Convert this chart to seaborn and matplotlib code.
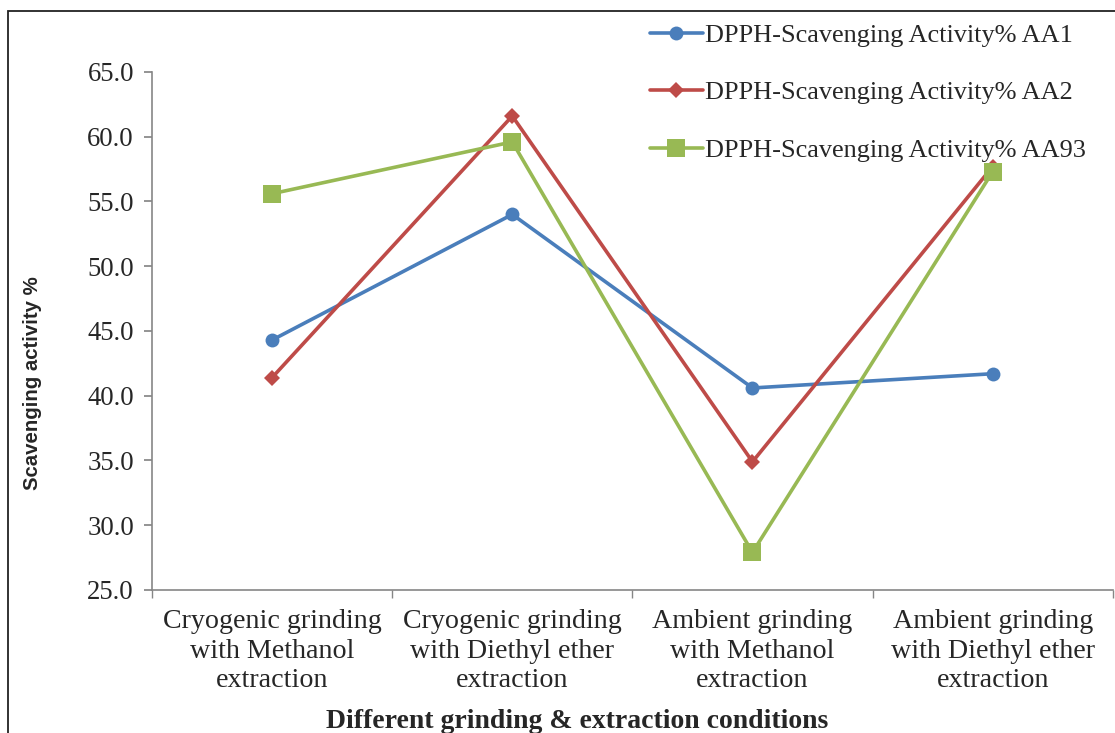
import seaborn as sns
import pandas as pd
import matplotlib.pyplot as plt
from matplotlib.patches import Rectangle

conditions = ['Cryogenic grinding\nwith Methanol\nextraction',
              'Cryogenic grinding\nwith Diethyl ether\nextraction',
              'Ambient grinding\nwith Methanol\nextraction',
              'Ambient grinding\nwith Diethyl ether\nextraction']
series = ['DPPH-Scavenging Activity% AA1',
          'DPPH-Scavenging Activity% AA2',
          'DPPH-Scavenging Activity% AA93']
aa1 = [44.3, 54.0, 40.6, 41.7]
aa2 = [41.4, 61.6, 34.9, 57.7]
aa93 = [55.6, 59.6, 27.9, 57.3]
yticks = [25.0, 30.0, 35.0, 40.0, 45.0, 50.0, 55.0, 60.0, 65.0]

rows = []
for name, vals in zip(series, [aa1, aa2, aa93]):
    for i, v in enumerate(vals):
        rows.append({'Condition': i, 'Series': name, 'Value': v})
df = pd.DataFrame(rows)

sns.set_theme(style='white')
plt.rcParams['font.family'] = ['Liberation Serif', 'DejaVu Serif']

fig = plt.figure(figsize=(11.15, 7.33), dpi=100)
ax = fig.add_axes([0.1363, 0.1951, 0.8617, 0.7067])

palette = {series[0]: '#4A7EBB', series[1]: '#BE4B48', series[2]: '#98B954'}
markers = {series[0]: 'o', series[1]: 'D', series[2]: 's'}
sizes = {series[0]: 10, series[1]: 8.5, series[2]: 12.5}

for name in series:
    sub = df[df['Series'] == name]
    sns.lineplot(data=sub, x='Condition', y='Value', color=palette[name],
                 marker=markers[name], markersize=sizes[name], linewidth=2.6,
                 markeredgewidth=0, label=name, ax=ax)

ax.set_xlim(-0.5, 3.5)
ax.set_ylim(25, 65)
ax.set_yticks(yticks)
ax.set_yticklabels([f'{t:.1f}' for t in yticks], fontsize=19.3)
ax.set_xticks(range(len(conditions)))
ax.set_xticklabels(conditions, fontsize=20.2)
for lab in ax.get_xticklabels():
    lab.set_linespacing(1.22)
ax.set_xticks([-0.5, 0.5, 1.5, 2.5, 3.5], minor=True)
ax.tick_params(axis='x', which='major', length=0, pad=14)
ax.tick_params(axis='x', which='minor', length=6, color='#868686', direction='out', bottom=True)
ax.tick_params(axis='y', length=6, color='#868686', direction='out', left=True, pad=7)

for s in ['top', 'right']:
    ax.spines[s].set_visible(False)
for s in ['left', 'bottom']:
    ax.spines[s].set_color('#868686')
    ax.spines[s].set_linewidth(1.2)

ax.set_xlabel('Different grinding & extraction conditions', fontsize=20,
              fontweight='bold')
ax.xaxis.set_label_coords(0.442, -0.23)
ax.set_ylabel('Scavenging activity %', fontsize=14.7, fontweight='bold',
              family=['Liberation Sans', 'DejaVu Sans'])
ax.yaxis.set_label_coords(-0.1145, 0.40)

ax.legend(loc='upper left', bbox_to_anchor=(0.583, 0.968),
          bbox_transform=fig.transFigure, frameon=False, fontsize=18.9,
          handlelength=2.0, handletextpad=0.1, labelspacing=1.3,
          borderpad=0, borderaxespad=0)

fig.patches.append(Rectangle((8 / 1115, -0.05), 1.1, 1 - 11 / 733 + 0.05,
                             transform=fig.transFigure, fill=False,
                             edgecolor='#222222', linewidth=1.3))

fig.savefig('out.png', dpi=100)
